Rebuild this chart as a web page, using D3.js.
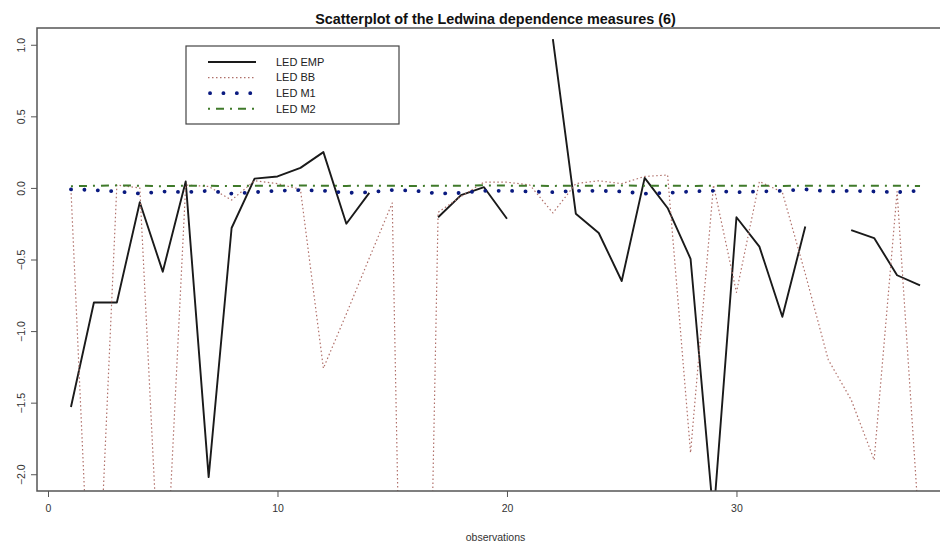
<!DOCTYPE html>
<html>
<head>
<meta charset="utf-8">
<script src="https://cdn.jsdelivr.net/npm/d3@7"></script>
<style>
  body { margin: 0; background: #fff; }
  text { font-family: "Liberation Sans", Arial, sans-serif; }
</style>
</head>
<body>
<div id="chart"></div>
<script>
// observations 1..38, null = missing value
var obs = d3.range(1, 39);

var ledEmp = [-1.53, -0.80, -0.80, -0.10, -0.585, 0.045, -2.02, -0.28, 0.065, 0.08,
              0.14, 0.25, -0.25, -0.035, null, null, -0.205, -0.05, 0.005, -0.215,
              null, 1.04, -0.18, -0.315, -0.65, 0.07, -0.14, -0.495, -2.3, -0.205,
              -0.41, -0.90, -0.27, null, -0.295, -0.35, -0.61, -0.68];

var ledBB = [-0.01, -3.6, 0.02, 0.0, -3.25, 0.02, 0.01, -0.085, 0.05, 0.03,
             -0.01, -1.26, -0.88, -0.49, -0.105, -8.5, -0.17, -0.06, 0.04, 0.04,
             0.02, -0.175, 0.03, 0.05, 0.03, 0.08, 0.09, -1.85, 0.02, -0.73,
             0.045, -0.03, -0.6, -1.2, -1.48, -1.9, -0.025, -2.47];

var ledM1 = [-0.01, -0.015, -0.025, -0.04, -0.025, -0.03, -0.02, -0.04, -0.03, -0.02,
             -0.015, -0.02, -0.035, -0.03, -0.015, -0.02, -0.04, -0.035, -0.02, -0.02,
             -0.025, -0.03, -0.02, -0.02, -0.025, -0.04, -0.035, -0.025, -0.02, -0.03,
             -0.025, -0.02, -0.01, -0.025, -0.02, -0.025, -0.03, -0.02];

var ledM2 = [0.012, 0.015, 0.018, 0.015, 0.012, 0.016, 0.015, 0.013, 0.016, 0.015,
             0.017, 0.015, 0.014, 0.016, 0.015, 0.013, 0.016, 0.015, 0.018, 0.016,
             0.015, 0.014, 0.016, 0.015, 0.017, 0.015, 0.016, 0.014, 0.015, 0.016,
             0.015, 0.014, 0.016, 0.015, 0.015, 0.016, 0.015, 0.014];

var xTicks = [0, 10, 20, 30];
var yTicks = [-2.0, -1.5, -1.0, -0.5, 0.0, 0.5, 1.0];
var titleText = "Scatterplot of the Ledwina dependence measures (6)";
var xLabel = "observations";

var series = [
  {name: "LED EMP", values: ledEmp, color: "#1a1a1a", width: 1.9, dash: null,     cap: "butt"},
  {name: "LED BB",  values: ledBB,  color: "#b0706a", width: 1.2, dash: "1.5,2.5", cap: "butt"},
  {name: "LED M1",  values: ledM1,  color: "#0a1a80", width: 3.8, dash: "0.1,13.3", cap: "round"},
  {name: "LED M2",  values: ledM2,  color: "#3f7a2a", width: 2,   dash: "2,6,8,6", cap: "butt"}
];

var width = 940, height = 542;
var plot = {left: 37, right: 954, top: 28, bottom: 491};

var x = d3.scaleLinear().domain([-0.48, 39.48]).range([plot.left, plot.right]);
var y = d3.scaleLinear().domain([-2.117, 1.117]).range([plot.bottom, plot.top]);

var svg = d3.select("#chart").append("svg")
    .attr("width", width)
    .attr("height", height)
    .style("background", "#fff");

svg.append("defs").append("clipPath").attr("id", "clip")
  .append("rect")
    .attr("x", plot.left).attr("y", plot.top)
    .attr("width", plot.right - plot.left)
    .attr("height", plot.bottom - plot.top);

var lines = svg.append("g").attr("clip-path", "url(#clip)");

series.forEach(function(s) {
  var line = d3.line()
      .defined(function(d, i) { return s.values[i] != null; })
      .x(function(d) { return x(d); })
      .y(function(d, i) { return y(s.values[i]); });
  lines.append("path")
      .datum(obs)
      .attr("d", line)
      .attr("fill", "none")
      .attr("stroke", s.color)
      .attr("stroke-width", s.width)
      .attr("stroke-linecap", s.cap)
      .attr("stroke-linejoin", "round")
      .attr("stroke-dasharray", s.dash);
});

// box
svg.append("rect")
    .attr("x", plot.left).attr("y", plot.top)
    .attr("width", plot.right - plot.left)
    .attr("height", plot.bottom - plot.top)
    .attr("fill", "none")
    .attr("stroke", "#555")
    .attr("stroke-width", 1.5);

// axes
var xAxis = svg.append("g")
    .attr("transform", "translate(0," + plot.bottom + ")")
    .call(d3.axisBottom(x).tickValues(xTicks).tickSize(6).tickPadding(8)
      .tickFormat(d3.format("d")));
var yAxis = svg.append("g")
    .attr("transform", "translate(" + plot.left + ",0)")
    .call(d3.axisLeft(y).tickValues(yTicks).tickSize(6).tickFormat(d3.format(".1f")));

[xAxis, yAxis].forEach(function(a) {
  a.selectAll(".tick line").attr("stroke", "#555");
  a.selectAll(".tick text")
      .attr("fill", "#333")
      .style("font-size", "10.5px")
      .style("font-family", "'Liberation Sans', Arial, sans-serif");
});
xAxis.select(".domain").remove();
yAxis.select(".domain").remove();

yAxis.selectAll(".tick text")
    .attr("x", null).attr("dy", null)
    .attr("text-anchor", "middle")
    .attr("transform", "translate(-16,0) rotate(-90)")
    .attr("dy", "0.35em")
    .text(function(d) { return d3.format(".1f")(d).replace("-", "\u2212"); });

// title
svg.append("text")
    .attr("x", (plot.left + plot.right) / 2)
    .attr("y", 24)
    .attr("text-anchor", "middle")
    .style("font-size", "14.4px")
    .style("font-weight", "bold")
    .attr("fill", "#111")
    .text(titleText);

svg.append("text")
    .attr("x", (plot.left + plot.right) / 2)
    .attr("y", 541)
    .attr("text-anchor", "middle")
    .style("font-size", "10.5px")
    .attr("fill", "#333")
    .text(xLabel);

// legend
var legend = svg.append("g");
legend.append("rect")
    .attr("x", 186).attr("y", 46)
    .attr("width", 213).attr("height", 78)
    .attr("fill", "#fff")
    .attr("stroke", "#444")
    .attr("stroke-width", 1.2);

series.forEach(function(s, i) {
  var ly = 62 + i * 15.6;
  legend.append("line")
      .attr("x1", s.cap === "round" ? 210 : 208).attr("x2", 256)
      .attr("y1", ly).attr("y2", ly)
      .attr("stroke", s.color)
      .attr("stroke-width", s.width)
      .attr("stroke-linecap", s.cap)
      .attr("stroke-dasharray", s.dash);
  legend.append("text")
      .attr("x", 276).attr("y", ly)
      .attr("dy", "0.35em")
      .style("font-size", "11px")
      .attr("fill", "#222")
      .text(s.name);
});
</script>
</body>
</html>
